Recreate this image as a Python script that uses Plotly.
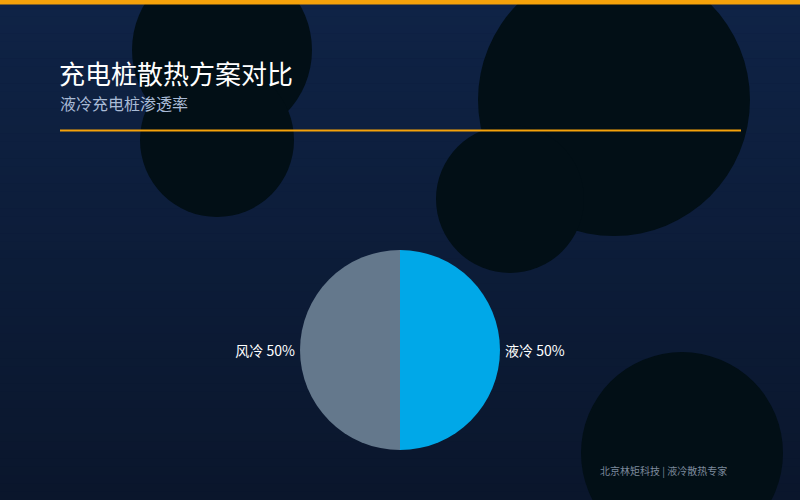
import plotly.graph_objects as go

# ---- data ----
labels = ["液冷", "风冷"]
values = [50, 50]
colors = ["#00a8e8", "#64788c"]

title = "充电桩散热方案对比"
subtitle = "液冷充电桩渗透率"
footer = "北京林矩科技 | 液冷散热专家"

W, H = 800, 500
FONT = "Noto Sans CJK SC"

def px(x):
    return x / W

def py(y):
    return 1 - y / H

shapes = []
# vertical gradient background
top = (15, 35, 70)
bot = (10, 22, 44)
n = 60
for i in range(n):
    t = i / (n - 1)
    c = tuple(round(top[k] + (bot[k] - top[k]) * t) for k in range(3))
    shapes.append(dict(type="rect", xref="paper", yref="paper",
                       x0=0, x1=1, y0=py(H * (i + 1) / n) - 0.001, y1=py(H * i / n),
                       fillcolor="rgb(%d,%d,%d)" % c, line_width=0, layer="below"))

# decorative circles (cx, cy, r) in pixels
circles = [(222, 50, 90), (217, 140, 77), (614, 100, 136), (510, 199, 74), (682, 453, 101)]
for cx, cy, r in circles:
    shapes.append(dict(type="circle", xref="paper", yref="paper",
                       x0=px(cx - r), x1=px(cx + r), y0=py(cy + r), y1=py(cy - r),
                       fillcolor="#020f16", line_width=0, layer="below"))

# top orange bar
shapes.append(dict(type="rect", xref="paper", yref="paper", x0=0, x1=1,
                   y0=py(4.5), y1=1, fillcolor="#f5a20a", line_width=0))
# orange divider
shapes.append(dict(type="line", xref="paper", yref="paper", x0=px(60), x1=px(741),
                   y0=py(130.5), y1=py(130.5), line=dict(color="#f5a20a", width=2)))

fig = go.Figure(go.Pie(
    labels=labels, values=values, sort=False, direction="clockwise", rotation=0,
    marker=dict(colors=colors, line=dict(width=0)),
    texttemplate="%{label} %{percent:.0%}", textposition="outside",
    textfont=dict(family=FONT, size=14, color="#ffffff"),
    domain=dict(x=[px(300), px(500)], y=[py(450), py(250)]),
    showlegend=False, hoverinfo="label+percent",
))

annotations = [
    dict(text=title, xref="paper", yref="paper", x=px(57), y=py(72), xanchor="left",
         yanchor="middle", showarrow=False, font=dict(family=FONT, size=26, color="#ffffff")),
    dict(text=subtitle, xref="paper", yref="paper", x=px(58), y=py(103), xanchor="left",
         yanchor="middle", showarrow=False, font=dict(family=FONT, size=16, color="#a9bbd6")),
    dict(text=footer, xref="paper", yref="paper", x=px(729), y=py(470), xanchor="right",
         yanchor="middle", showarrow=False, font=dict(family=FONT, size=10, color="#7d8a9c")),
]

fig.update_layout(
    width=W, height=H, margin=dict(l=0, r=0, t=0, b=0),
    paper_bgcolor="#0c1a36", plot_bgcolor="rgba(0,0,0,0)",
    shapes=shapes, annotations=annotations,
    font=dict(family=FONT),
)

fig.write_html("out.html", config={"displayModeBar": False},
               post_script="document.body.style.margin='0';document.body.style.background='#0a1628';")
